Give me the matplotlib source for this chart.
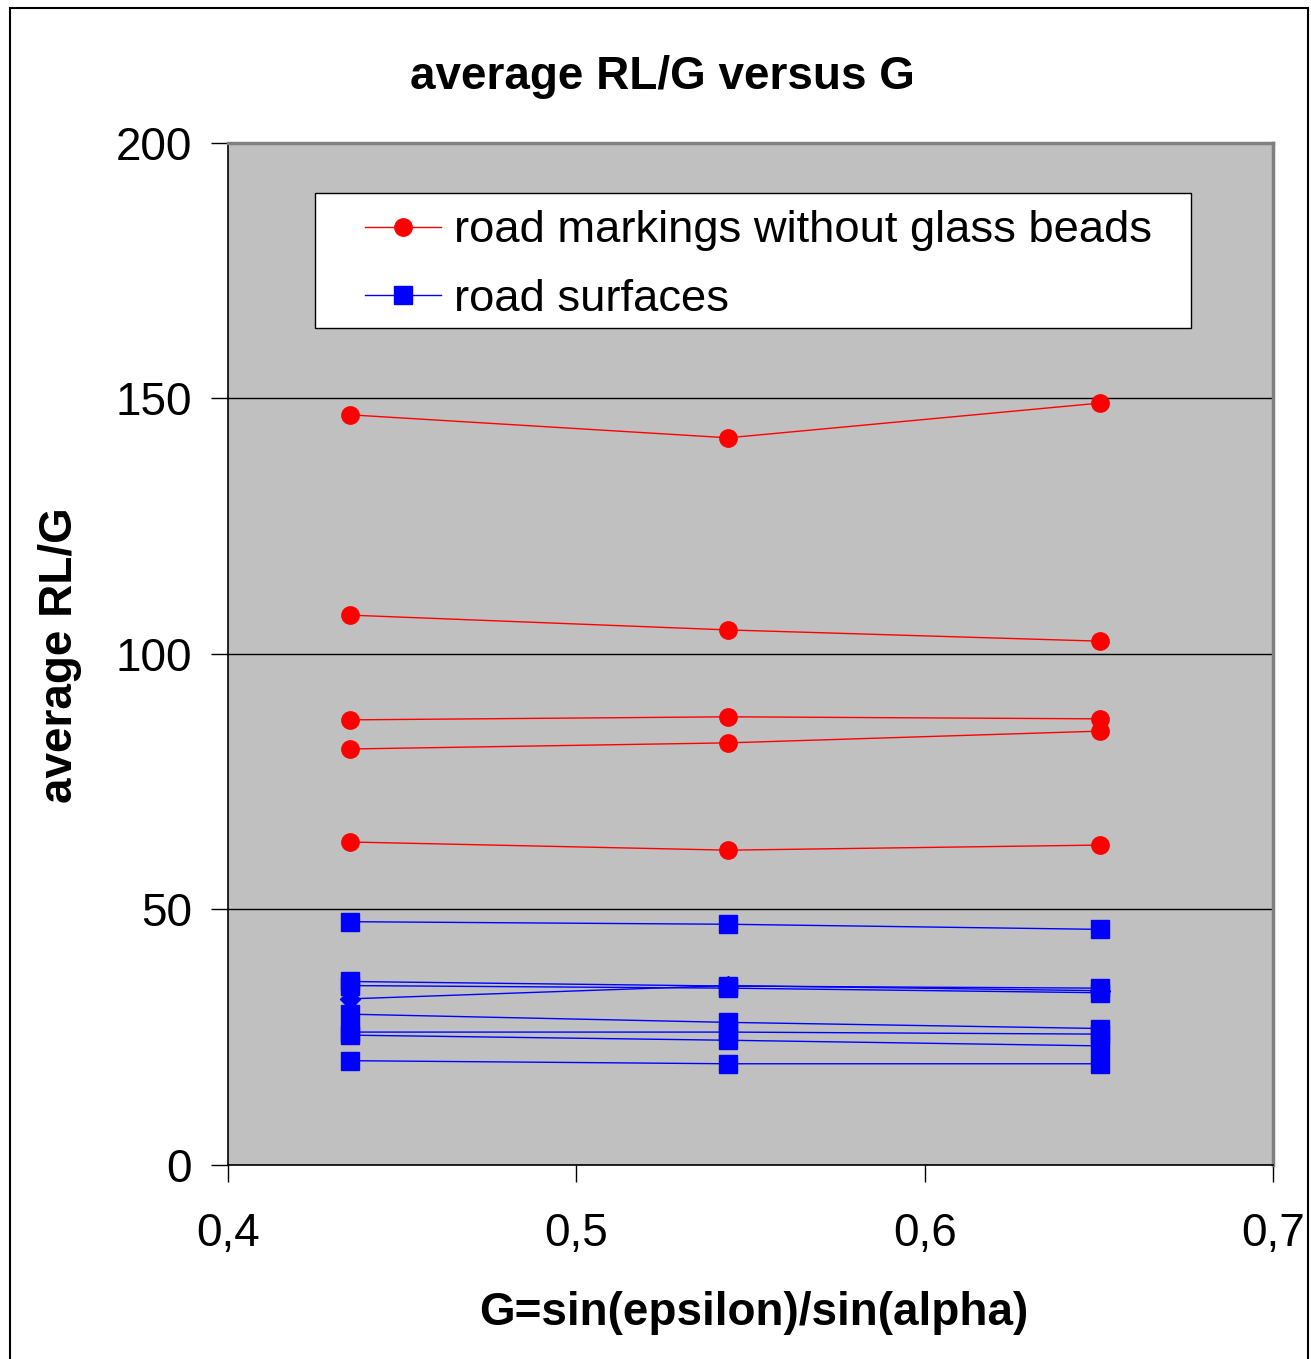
import matplotlib
matplotlib.use("Agg")
import matplotlib.pyplot as plt
from matplotlib.patches import Rectangle
from matplotlib.ticker import FuncFormatter

plt.rcParams['font.family'] = ['Liberation Sans', 'DejaVu Sans']

G = [0.435, 0.5436, 0.6504]

red_series = [
    [146.8, 142.3, 149.1],
    [107.6, 104.7, 102.5],
    [87.1, 87.7, 87.3],
    [81.4, 82.6, 84.9],
    [63.2, 61.6, 62.6],
]

blue_series = [
    [47.6, 47.1, 46.1],
    [35.9, 35.0, 34.6],
    [35.1, 34.6, 33.7],
    [29.5, 27.9, 26.7],
    [26.0, 26.0, 25.6],
    [25.4, 24.4, 23.3],
    [20.4, 19.8, 19.8],
]
blue_diamond = [32.5, 35.1, 34.1]

xticks = [0.4, 0.5, 0.6, 0.7]
yticks = [0, 50, 100, 150, 200]

fig = plt.figure(figsize=(13.11, 13.59), dpi=100)
ax = fig.add_axes([0.1739, 0.1428, 0.9710 - 0.1739, 0.8948 - 0.1428])
ax.set_facecolor('#c0c0c0')

for i, s in enumerate(red_series):
    ax.plot(G, s, color='#ff0000', lw=1.0, marker='o', markersize=12.5,
            label='road markings without glass beads' if i == 0 else None, zorder=3)
for i, s in enumerate(blue_series):
    ax.plot(G, s, color='#0000ff', lw=1.0, marker='s', markersize=12.5,
            label='road surfaces' if i == 0 else None, zorder=3)
ax.plot(G, blue_diamond, color='#0000ff', lw=1.0, marker='D', markersize=10, zorder=3)

ax.set_xlim(0.4, 0.7)
ax.set_ylim(0, 200)
ax.set_xticks(xticks)
ax.set_yticks(yticks)
ax.xaxis.set_major_formatter(FuncFormatter(lambda v, p: f"{v:.1f}".replace('.', ',')))
ax.tick_params(axis='both', labelsize=33, direction='out', length=12, width=1, color='black')
ax.tick_params(axis='y', pad=14)
ax.tick_params(axis='x', pad=22)
ax.grid(axis='y', color='black', lw=1)
ax.set_axisbelow(True)

for side in ['top', 'right']:
    ax.spines[side].set_color('#808080')
    ax.spines[side].set_linewidth(2.5)
for side in ['left', 'bottom']:
    ax.spines[side].set_color('black')
    ax.spines[side].set_linewidth(1.2)

# legend frame drawn separately
ax.add_patch(Rectangle((0.0833, 0.819), 0.9215 - 0.0833, 0.951 - 0.819,
                       transform=ax.transAxes, facecolor='white', edgecolor='black',
                       lw=1.0, zorder=5))
leg = ax.legend(loc='upper left', bbox_to_anchor=(0.131, 0.934), fontsize=32.7,
                frameon=False, borderpad=0, handlelength=1.68, labelspacing=0.6,
                borderaxespad=0, handletextpad=0.28)
leg.set_zorder(6)

fig.text(0.505, 0.943, 'average RL/G versus G', ha='center', va='center',
         fontsize=33, fontweight='bold')
fig.text(0.575, 0.034, 'G=sin(epsilon)/sin(alpha)', ha='center', va='center',
         fontsize=33, fontweight='bold')
fig.text(0.046, 0.518, 'average RL/G', ha='center', va='center', rotation=90,
         fontsize=33, fontweight='bold')

fig.patches.append(Rectangle((0.008, -0.01), 0.99, 1.004, transform=fig.transFigure,
                             fill=False, edgecolor='black', lw=1.5))

fig.savefig('out.png', dpi=100)
